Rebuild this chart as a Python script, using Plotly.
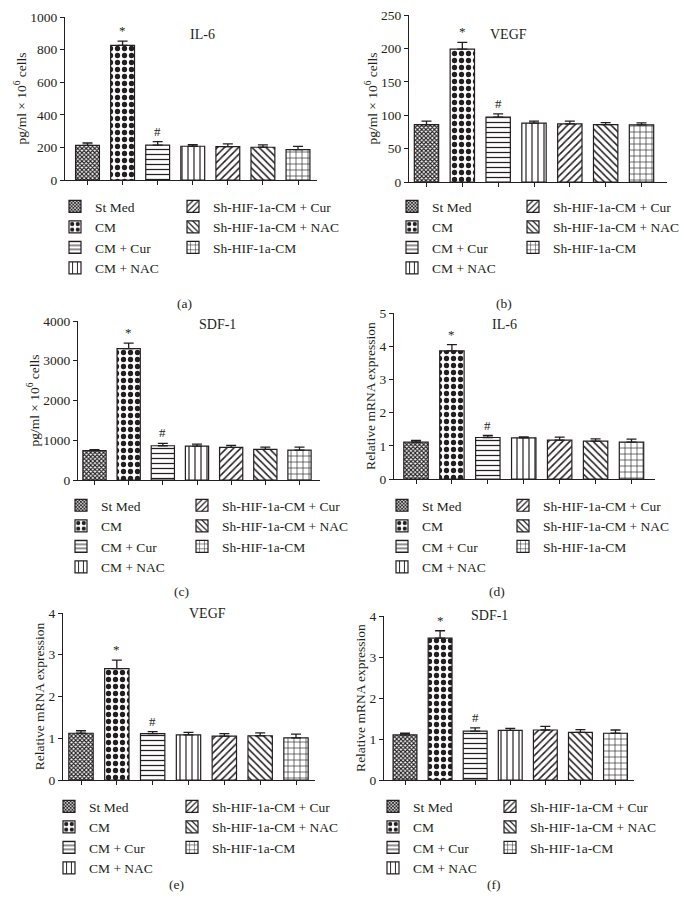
import plotly.graph_objects as go

# groups, in bar order
groups = ["St Med", "CM", "CM + Cur", "CM + NAC",
          "Sh-HIF-1a-CM + Cur", "Sh-HIF-1a-CM + NAC", "Sh-HIF-1a-CM"]
marks = ["", "*", "#", "", "", "", ""]

# (a) IL-6 protein
il6_protein = [213, 826, 214, 207, 205, 201, 186]
il6_protein_err = [14, 26, 22, 10, 17, 14, 20]
# (b) VEGF protein
vegf_protein = [86, 199, 97, 88, 87, 86, 85.5]
vegf_protein_err = [5, 10, 5, 3, 4, 3, 3]
# (c) SDF-1 protein
sdf1_protein = [740, 3305, 862, 853, 820, 770, 753]
sdf1_protein_err = [25, 140, 60, 50, 50, 58, 75]
# (d) IL-6 mRNA
il6_mrna = [1.11, 3.86, 1.25, 1.24, 1.17, 1.14, 1.11]
il6_mrna_err = [0.05, 0.19, 0.06, 0.03, 0.09, 0.07, 0.09]
# (e) VEGF mRNA
vegf_mrna = [1.12, 2.67, 1.11, 1.08, 1.05, 1.06, 1.01]
vegf_mrna_err = [0.06, 0.2, 0.05, 0.06, 0.06, 0.07, 0.09]
# (f) SDF-1 mRNA
sdf1_mrna = [1.1, 3.46, 1.19, 1.21, 1.22, 1.16, 1.14]
sdf1_mrna_err = [0.04, 0.18, 0.08, 0.05, 0.09, 0.07, 0.08]

W, H = 684, 914
FONT = "Liberation Serif"
INK = "#231f20"

# pattern per group (shape, size, solidity)
patterns = [
    ("x", 3, 0.6),
    (".", 7, 0.45),
    ("-", 5, 0.25),
    ("|", 6, 0.2),
    ("/", 5, 0.3),
    ("\\", 5, 0.3),
    ("+", 6, 0.2),
]

pg_title = "pg/ml × 10<sup>6</sup> cells"
mrna_title = "Relative mRNA expression"

# panel geometry in pixels: axis left/right, first/last bar centre, y top/bottom
panels = [
    dict(vals=il6_protein, err=il6_protein_err, ymax=1000, dtick=200, ytitle=pg_title,
         name="IL-6", cap="(a)", axL=65, axR=317, c0=87.5, c6=298, yT=17, yB=180,
         tx=188, ty=25, lx1=95, lx2=213, ly=206, capx=175, capy=294),
    dict(vals=vegf_protein, err=vegf_protein_err, ymax=250, dtick=50, ytitle=pg_title,
         name="VEGF", cap="(b)", axL=409, axR=667, c0=426.5, c6=641.5, yT=15, yB=182,
         tx=529, ty=25, lx1=432, lx2=553, ly=206, capx=514, capy=294),
    dict(vals=sdf1_protein, err=sdf1_protein_err, ymax=4000, dtick=1000, ytitle=pg_title,
         name="SDF-1", cap="(c)", axL=78, axR=320, c0=94.5, c6=299.5, yT=321, yB=480,
         tx=197, ty=325, lx1=101, lx2=222, ly=505, capx=172, capy=591),
    dict(vals=il6_mrna, err=il6_mrna_err, ymax=5, dtick=1, ytitle=mrna_title,
         name="IL-6", cap="(d)", axL=394, axR=655, c0=416, c6=631.5, yT=313, yB=479,
         tx=519, ty=325, lx1=422, lx2=543, ly=505, capx=507, capy=591),
    dict(vals=vegf_mrna, err=vegf_mrna_err, ymax=4, dtick=1, ytitle=mrna_title,
         name="VEGF", cap="(e)", axL=63, axR=315, c0=81, c6=296, yT=613, yB=780,
         tx=187, ty=623, lx1=89, lx2=212, ly=806, capx=167, capy=894),
    dict(vals=sdf1_mrna, err=sdf1_mrna_err, ymax=4, dtick=1, ytitle=mrna_title,
         name="SDF-1", cap="(f)", axL=384, axR=634, c0=405, c6=615.5, yT=616, yB=780,
         tx=510, ty=625, lx1=413, lx2=530, ly=806, capx=503, capy=894),
]


def fx(p):
    return p / W


def fy(p):
    return 1 - p / H


fig = go.Figure()
layout = {}
annotations = []

for k, p in enumerate(panels):
    n = k + 1
    xa = "x" if n == 1 else f"x{n}"
    ya = "y" if n == 1 else f"y{n}"
    leg_a = f"legend{2 * k + 1}" if k > 0 else "legend"
    leg_b = f"legend{2 * k + 2}"

    for i, g in enumerate(groups):
        shape, size, sol = patterns[i]
        fig.add_trace(go.Bar(
            x=[i], y=[p["vals"][i]], name=g,
            xaxis=xa, yaxis=ya,
            width=0.68,
            legend=leg_a if i < 4 else leg_b,
            marker=dict(color="white", line=dict(color=INK, width=1.2),
                        pattern=dict(shape=shape, size=size, solidity=sol,
                                     fgcolor=INK, fgopacity=1, bgcolor="white",
                                     fillmode="replace")),
            error_y=dict(type="data", symmetric=False, array=[p["err"][i]], arrayminus=[0],
                         color=INK, thickness=1.3, width=5),
        ))
        if marks[i]:
            annotations.append(dict(
                x=i, y=p["vals"][i] + p["err"][i], xref=xa, yref=ya,
                text=marks[i], showarrow=False, yanchor="bottom", yshift=1,
                font=dict(family=FONT, size=13, color=INK)))

    s = (p["c6"] - p["c0"]) / 6
    lo = -(p["c0"] - p["axL"]) / s
    hi = 6 + (p["axR"] - p["c6"]) / s
    xkey = "xaxis" if n == 1 else f"xaxis{n}"
    ykey = "yaxis" if n == 1 else f"yaxis{n}"
    layout[xkey] = dict(domain=[fx(p["axL"]), fx(p["axR"])], range=[lo, hi], anchor=ya,
                        showline=True, linecolor=INK, linewidth=1.3, showgrid=False,
                        zeroline=False, ticks="outside", ticklen=4, tickwidth=1.2,
                        tickcolor=INK, tickvals=list(range(7)), showticklabels=False,
                        fixedrange=True, automargin=False)
    layout[ykey] = dict(domain=[fy(p["yB"]), fy(p["yT"])], range=[0, p["ymax"]], anchor=xa,
                        dtick=p["dtick"], showline=True, linecolor=INK, linewidth=1.3,
                        showgrid=False, zeroline=False, ticks="outside", ticklen=4,
                        tickwidth=1.2, tickcolor=INK,
                        tickfont=dict(family=FONT, size=13.5, color=INK),
                        title=dict(text=p["ytitle"], font=dict(family=FONT, size=13.5, color=INK),
                                   standoff=0),
                        automargin=False)

    for key, lx in ((leg_a, p["lx1"]), (leg_b, p["lx2"])):
        layout[key] = dict(x=fx(lx - 40), y=fy(p["ly"] - 15), xanchor="left", yanchor="top",
                           bgcolor="rgba(0,0,0,0)", borderwidth=0,
                           font=dict(family=FONT, size=13.5, color=INK),
                           tracegroupgap=0)

    annotations.append(dict(x=fx(p["tx"]), y=fy(p["ty"]), xref="paper", yref="paper",
                            text=p["name"], showarrow=False,
                            font=dict(family=FONT, size=14, color=INK)))
    annotations.append(dict(x=fx(p["capx"]), y=fy(p["capy"]), xref="paper", yref="paper",
                            text=p["cap"], showarrow=False,
                            font=dict(family=FONT, size=13.5, color=INK)))

fig.update_layout(**layout)
fig.update_layout(
    width=W, height=H,
    margin=dict(l=0, r=0, t=0, b=0, autoexpand=False),
    barmode="overlay",
    plot_bgcolor="white",
    paper_bgcolor="white",
    annotations=annotations,
    showlegend=True,
)

# drop the page's default body margin so the figure sits at the window origin
fig.write_html("out.html", config={"displayModeBar": False},
               post_script="document.body.style.margin='0';")
